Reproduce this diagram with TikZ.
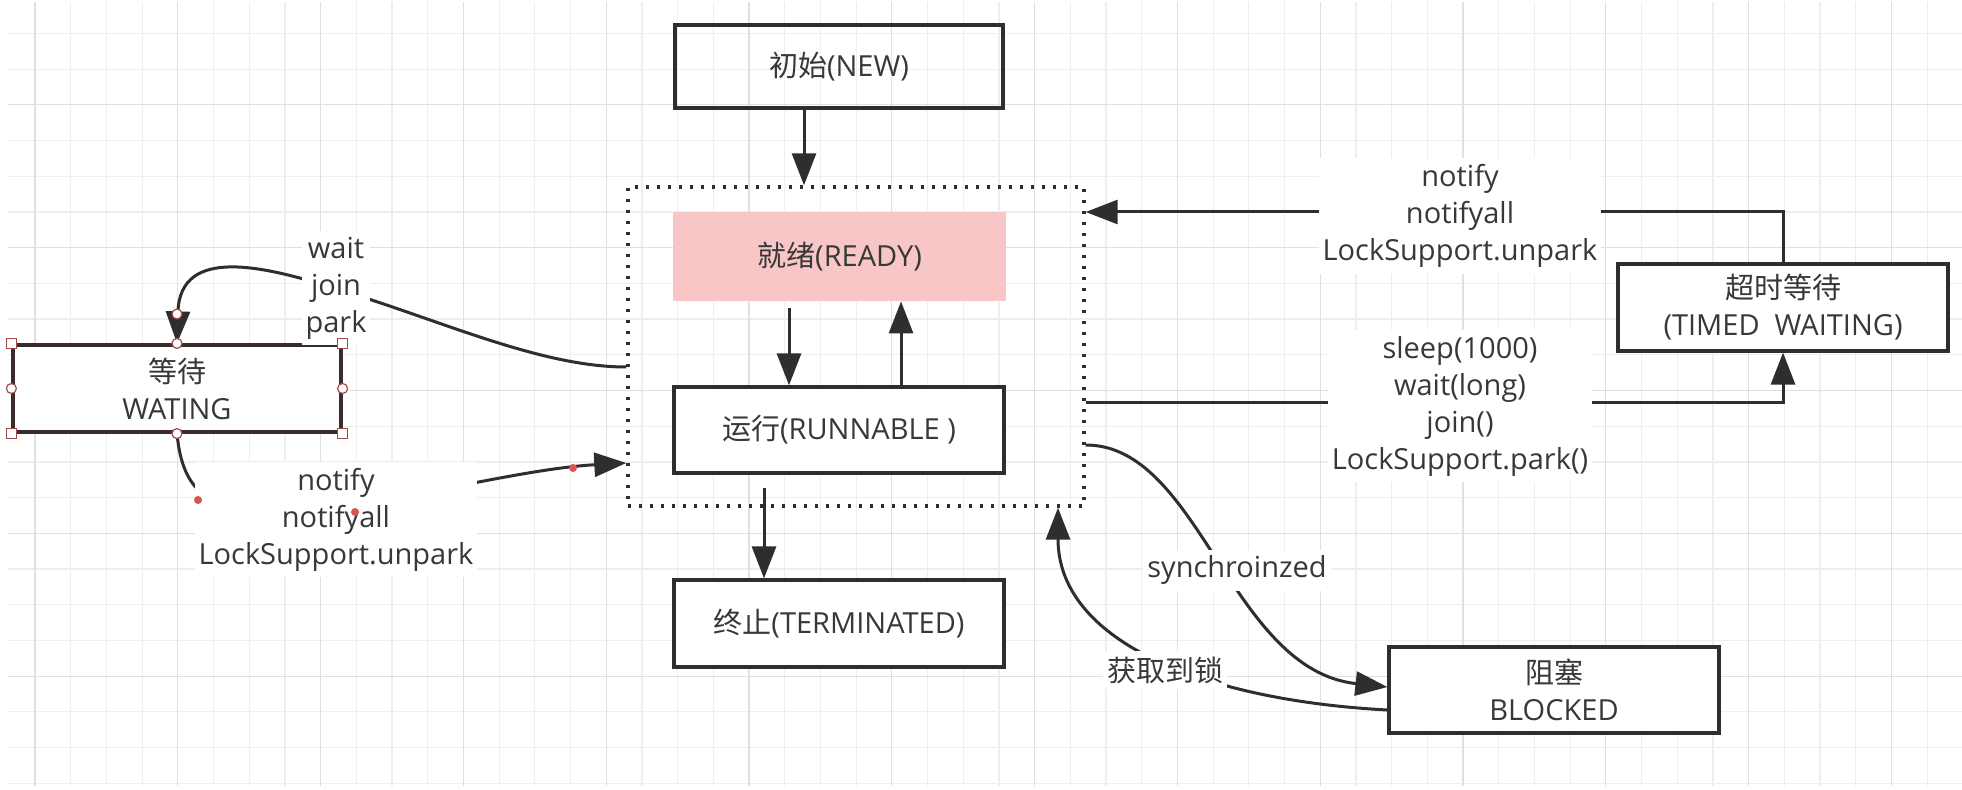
\documentclass[tikz,border=0pt]{standalone}
\usepackage{fontspec}
\setmainfont{Open Sans}
\newfontfamily\cjkfont{Noto Sans CJK SC}
\newcommand\zhs[1]{{\cjkfont #1}}
\usetikzlibrary{arrows.meta}
\definecolor{ink}{HTML}{2E2E2E}
\definecolor{txt}{HTML}{383838}
\definecolor{gridminor}{HTML}{EEEEEE}
\definecolor{gridmajor}{HTML}{E0E0E0}
\definecolor{readyfill}{HTML}{F8C6C6}
\definecolor{handle}{HTML}{A04A4A}
\definecolor{waitborder}{HTML}{3A2C2C}
\definecolor{dotred}{HTML}{D9534F}
\begin{document}
\begin{tikzpicture}[x=0.5pt,y=-0.5pt,
  font=\fontsize{14.5}{18.5}\selectfont, text=txt,
  statebox/.style={draw=ink, line width=1.6pt, align=center, inner sep=0pt},
  conn/.style={draw=ink, line width=1.5pt},
  arr/.style={conn, -{Triangle[length=16pt,width=12pt]}},
  lbl/.style={fill=white, align=center, inner xsep=2pt, inner ysep=3pt},
  sqh/.style={draw=handle, fill=white, line width=0.6pt, minimum size=5pt, inner sep=0pt},
  cih/.style={circle, draw=handle, fill=white, line width=0.6pt, minimum size=5pt, inner sep=0pt},
  reddot/.style={circle, fill=dotred, minimum size=4pt, inner sep=0pt}]
\fill[white] (0,0) rectangle (1962,790);
\useasboundingbox (0,0) rectangle (1962,790);
% grid
\foreach \k in {0,...,53} {\draw[gridminor, line width=0.6pt] ({35+35.7*\k},2) -- ({35+35.7*\k},786);}
\foreach \k in {0,...,21} {\draw[gridminor, line width=0.6pt] (8,{33.5+35.7*\k}) -- (1962,{33.5+35.7*\k});}
\foreach \k in {0,4,...,52} {\draw[gridmajor, line width=0.6pt] ({35+35.7*\k},2) -- ({35+35.7*\k},786);}
\foreach \k in {2,6,...,18} {\draw[gridmajor, line width=0.6pt] (8,{33.5+35.7*\k}) -- (1962,{33.5+35.7*\k});}

% states
\node[statebox, minimum width=164pt, minimum height=41.5pt] (new) at (839,66.5) {\zhs{初始}(NEW)};
\node[draw=ink, line width=1.7pt, dash pattern=on 1.7pt off 3.8pt, minimum width=228pt, minimum height=159.5pt, inner sep=0pt] (rb) at (856,346.5) {};
\node[fill=readyfill, minimum width=166.5pt, minimum height=44.5pt, inner sep=0pt] (ready) at (839.5,256.5) {\zhs{就绪}(READY)};
\node[statebox, fill=white, minimum width=165pt, minimum height=43pt] (runnable) at (839,430) {\zhs{运行}(RUNNABLE )};
\node[statebox, fill=white, minimum width=165pt, minimum height=43.5pt] (terminated) at (839,623.5) {\zhs{终止}(TERMINATED)};
\node[statebox, draw=waitborder, fill=white, minimum width=164pt, minimum height=43.5pt] (waiting) at (177,388.5) {\zhs{等待}\\WATING};
\node[statebox, fill=white, minimum width=165pt, minimum height=43.5pt] (timed) at (1783,307.5) {\zhs{超时等待}\\(TIMED~~WAITING)};
\node[statebox, fill=white, minimum width=165pt, minimum height=43pt] (blocked) at (1554,690) {\zhs{阻塞}\\BLOCKED};

% connectors
\draw[arr] ([xshift=-17.5pt]new.south) -- ([xshift=-17.5pt]new.south |- rb.north);
\draw[arr] ([xshift=-25.25pt,yshift=-3.5pt]ready.south) -- ([xshift=-25.25pt]ready.south |- runnable.north);
\draw[arr] ([xshift=31pt]runnable.north) -- ([xshift=31pt]runnable.north |- ready.south);
\draw[arr] ([xshift=-37.5pt,yshift=-6.5pt]runnable.south) -- ([xshift=-37.5pt]runnable.south |- terminated.north);
\draw[arr] (timed.north) |- ([yshift=67.25pt]rb.east);
\draw[arr] ([yshift=-28.25pt]rb.east) -| (timed.south);
\draw[arr] ([yshift=-10.25pt]rb.west) .. controls (540,367) and (440,320) .. (340,290) .. controls (265,266) and (180,245) .. (waiting.north);
\draw[arr] (waiting.south) .. controls (181,475) and (195,505) .. (250,512) .. controls (330,522) and (500,470) .. ([yshift=-58.25pt]rb.west);
\draw[arr] ([yshift=-49.25pt]rb.east) .. controls (1200,445) and (1230,670) .. ([yshift=1.5pt]blocked.west);
\draw[arr] ([yshift=-10pt]blocked.west) .. controls (1200,700) and (1058,640) .. ([xshift=101pt]rb.south);

% labels
\node[lbl] (l1) at (1460,216) {notify\\notifyall\\LockSupport.unpark};
\node[lbl] (l2) at (1460,406) {sleep(1000)\\wait(long)\\join()\\LockSupport.park()};
\node[lbl] (l3) at (336,288) {wait\\join\\park};
\node[lbl] (l4) at (336,519.5) {notify\\notifyall\\LockSupport.unpark};
\node[lbl] (l5) at (1237,570) {synchroinzed};
\node[lbl] (l6) at (1165,670) {\zhs{获取到锁}};

% selection handles of the WATING box
\node[sqh] (h1) at (waiting.north west) {};
\node[sqh] (h2) at (waiting.north east) {};
\node[sqh] (h3) at (waiting.south west) {};
\node[sqh] (h4) at (waiting.south east) {};
\node[cih] (h5) at (waiting.north) {};
\node[cih] (h6) at (waiting.south) {};
\node[cih] (h7) at (waiting.west) {};
\node[cih] (h8) at (waiting.east) {};
\node[cih] (h9) at (177,314) {};
% waypoints of the selected edge
\node[reddot] (d1) at (198,500) {};
\node[reddot] (d2) at (355,512) {};
\node[reddot] (d3) at (573,468) {};
\end{tikzpicture}
\end{document}
